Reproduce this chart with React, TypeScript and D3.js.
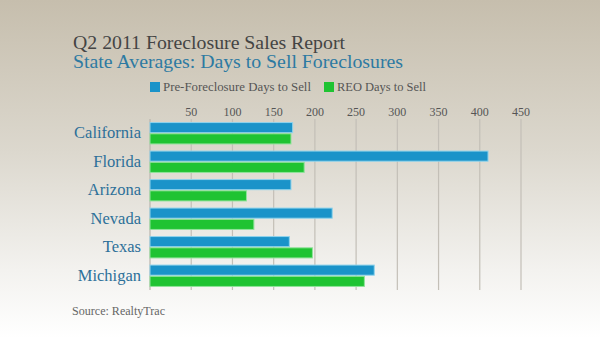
import React from "react";
import * as d3 from "d3";

const states = ["California", "Florida", "Arizona", "Nevada", "Texas", "Michigan"];
const preForeclosure = [173, 410, 171, 221, 169, 272];
const reo = [171, 187, 117, 126, 197, 260];
const ticks = [50, 100, 150, 200, 250, 300, 350, 400, 450];
const seriesNames = ["Pre-Foreclosure Days to Sell", "REO Days to Sell"];
const title = "Q2 2011 Foreclosure Sales Report";
const subtitle = "State Averages: Days to Sell Foreclosures";
const source = "Source: RealtyTrac";

const W = 600, H = 338;
const serif = "'Liberation Serif', 'Times New Roman', serif";

export default function App() {
  const x = d3.scaleLinear().domain([0, 450]).range([150, 521]);
  const y = d3.scaleBand().domain(states).range([119, 290]).paddingInner(0.25).paddingOuter(0.125);
  const sub = d3.scaleBand().domain(["a", "b"]).range([0, y.bandwidth()]).paddingInner(0.1);
  const colors = ["#1a93c9", "#1fc332"];
  const strokes = ["#8fd3ec", "#8fe39a"];
  return (
    <svg width={W} height={H} style={{ position: "absolute", left: 0, top: 0 }}>
      <defs>
        <linearGradient id="bg" x1="0" y1="0" x2="0" y2="1">
          <stop offset="0%" stopColor="#c6bead" />
          <stop offset="45%" stopColor="#dcd8ce" />
          <stop offset="80%" stopColor="#f3f2ef" />
          <stop offset="100%" stopColor="#ffffff" />
        </linearGradient>
      </defs>
      <rect x={0} y={0} width={W} height={H} fill="url(#bg)" />
      <text x={73} y={49} fontFamily={serif} fontSize={18.5} fill="#444" textLength={272} lengthAdjust="spacingAndGlyphs">{title}</text>
      <text x={73} y={67.5} fontFamily={serif} fontSize={18.5} fill="#2d7aa2" textLength={330} lengthAdjust="spacingAndGlyphs">{subtitle}</text>
      {/* legend */}
      <rect x={150} y={82} width={10} height={10} fill={colors[0]} />
      <text x={163} y={91} fontFamily={serif} fontSize={13} fill="#555" textLength={148} lengthAdjust="spacingAndGlyphs">{seriesNames[0]}</text>
      <rect x={324} y={82} width={10} height={10} fill={colors[1]} />
      <text x={337} y={91} fontFamily={serif} fontSize={13} fill="#555" textLength={89} lengthAdjust="spacingAndGlyphs">{seriesNames[1]}</text>
      {/* grid */}
      <line x1={x(0)} x2={x(0)} y1={119} y2={290} stroke="#b9b5ad" strokeWidth={1.2} />
      {ticks.map((t) => (
        <g key={t}>
          <line x1={x(t)} x2={x(t)} y1={119} y2={290} stroke="#c3bfb7" strokeWidth={1.2} />
          <text x={x(t)} y={116} textAnchor="middle" fontFamily={serif} fontSize={12} fill="#555">{t}</text>
        </g>
      ))}
      {states.map((s, i) => (
        <g key={s}>
          <rect x={x(0)} y={(y(s) as number)} width={x(preForeclosure[i]) - x(0)} height={sub.bandwidth()}
            fill={colors[0]} stroke={strokes[0]} strokeWidth={1} />
          <rect x={x(0)} y={(y(s) as number) + (sub("b") as number)} width={x(reo[i]) - x(0)} height={sub.bandwidth()}
            fill={colors[1]} stroke={strokes[1]} strokeWidth={1} />
          <text x={141} y={(y(s) as number) + y.bandwidth() / 2 + 5} textAnchor="end" fontFamily={serif} fontSize={16.5} fill="#2d7099">{s}</text>
        </g>
      ))}
      <text x={72} y={315} fontFamily={serif} fontSize={13} fill="#666" textLength={93} lengthAdjust="spacingAndGlyphs">{source}</text>
    </svg>
  );
}
